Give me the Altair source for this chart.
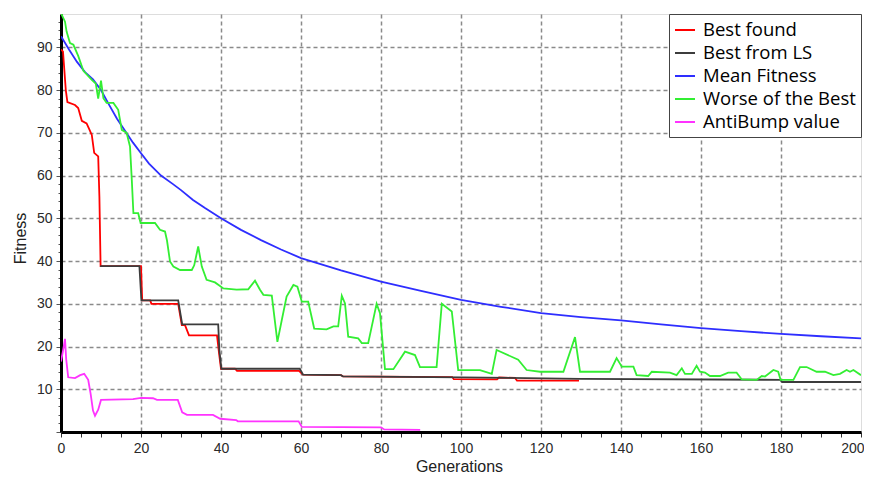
import altair as alt
import pandas as pd

# ---- data ----
series_names = ["Best found", "Best from LS", "Mean Fitness", "Worse of the Best", "AntiBump value"]
series_colors = ["#ff0000", "#3c3c3c", "#2e2eff", "#33ee33", "#ff33ff"]

best_found_gen = [0, 0.5, 1.2, 1.6, 3.5, 4.3, 5.2, 6.4, 7.0, 7.7, 8.3, 9.3, 9.6, 9.9,
                  20.0, 20.3, 22.3, 22.6, 29.3, 30.2, 31.0, 32.0, 39.0, 39.5, 40.0,
                  43.5, 44.0, 59.5, 60.5, 70.0, 70.5, 97.8, 98.2, 109.0, 109.5, 113.5, 114.0, 129.5]
best_found_val = [89.5, 89.0, 80.0, 77.2, 76.5, 75.8, 72.8, 72.2, 71.0, 69.5, 65.3, 64.5, 55.0, 38.8,
                  38.8, 30.8, 30.8, 30.0, 30.0, 25.0, 25.0, 22.6, 22.6, 18.5, 14.8,
                  14.8, 14.3, 14.3, 13.4, 13.3, 13.0, 12.85, 12.35, 12.3, 12.75, 12.65, 12.05, 12.0]

best_ls_gen = [9.8, 19.6, 20.1, 29.3, 30.3, 39.3, 39.6, 40.1, 59.7, 60.5, 70.0, 70.5,
               100.0, 130.0, 179.8, 180.3, 200.0]
best_ls_val = [38.8, 38.8, 30.8, 30.8, 25.2, 25.2, 19.0, 14.8, 14.8, 13.4, 13.3, 13.0,
               12.8, 12.45, 12.2, 11.7, 11.7]

mean_gen = [0, 2, 4, 6, 8, 10, 12, 14, 16, 18, 20, 22, 25, 28, 30, 33, 36, 40, 45, 50, 55,
            60, 70, 80, 90, 100, 110, 120, 130, 140, 150, 160, 170, 180, 190, 200]
mean_val = [92.6, 89.5, 86.6, 84.2, 82.5, 80.0, 76.6, 73.3, 70.5, 67.7, 65.2, 62.8, 60.0, 58.0,
            56.6, 54.3, 52.4, 50.0, 47.3, 44.9, 42.7, 40.7, 37.8, 35.2, 33.0, 30.9, 29.3, 27.8,
            26.9, 26.1, 25.2, 24.3, 23.6, 22.95, 22.4, 21.9]

worse_gen = [0, 1.0, 1.4, 2.25, 3.1, 4.3, 5.6, 7.7, 8.7, 9.3, 10.0, 10.6, 11.4, 13.1, 14.3, 15.2,
             16.4, 17.25, 17.7, 18.1, 19.3, 19.9, 23.5, 24.75, 26.0, 26.5, 27.25, 28.1, 29.75,
             32.7, 33.3, 34.3, 35.2, 36.4, 38.5, 40.6, 43.9, 46.8, 48.5, 49.75, 50.6, 52.7, 54.1,
             55.2, 56.4, 58.1, 59.1, 60.2, 61.8, 63.3, 66.4, 68.1, 69.3, 70.2, 71.0, 71.8, 74.3,
             75.2, 76.8, 78.9, 79.75, 81.0, 83.1, 86.0, 88.5, 89.75, 93.9, 95.2, 97.7, 99.3,
             104.75, 107.7, 108.9, 114.3, 116.4, 119.75, 125.6, 128.5, 129.75, 137.25, 138.9,
             140.2, 143.1, 143.9, 146.8, 147.7, 152.25, 153.9, 155.2, 156.0, 157.7, 158.9,
             159.75, 161.0, 162.25, 164.75, 166.8, 168.9, 170.2, 173.9, 175.2, 176.0, 178.1,
             179.3, 179.9, 183.1, 184.75, 186.4, 188.9, 191.0, 193.1, 194.75, 196.4, 197.25,
             198.1, 200.0]
worse_val = [98.0, 96.0, 93.7, 91.0, 90.6, 88.0, 84.5, 82.4, 81.5, 78.0, 82.2, 78.1, 77.0, 77.0,
             75.4, 70.7, 70.0, 66.8, 59.0, 51.2, 51.2, 48.9, 48.9, 47.3, 46.9, 44.8, 39.9, 38.7,
             37.9, 37.9, 39.0, 43.4, 38.7, 35.6, 35.0, 33.6, 33.3, 33.4, 35.4, 33.3, 32.1, 31.9,
             21.1, 26.2, 31.7, 34.4, 34.0, 30.5, 30.5, 24.2, 24.0, 24.7, 24.7, 31.9, 30.1, 22.3,
             21.9, 20.8, 20.8, 30.0, 27.8, 14.7, 14.7, 18.8, 18.0, 15.2, 15.2, 30.0, 28.2, 14.5,
             14.5, 13.6, 19.2, 16.9, 14.5, 14.1, 14.1, 22.2, 14.1, 14.1, 17.3,
             15.3, 15.3, 13.3, 13.1, 14.1, 13.9, 13.3, 14.9, 13.6, 13.6, 15.5,
             14.1, 13.9, 13.1, 13.1, 13.9, 13.9, 12.3, 12.2, 13.1, 13.0, 14.5,
             14.1, 12.2, 12.2, 15.2, 15.2, 14.1, 14.1, 13.3, 13.6, 14.5, 14.1,
             14.5, 13.3]

antibump_gen = [0, 0.5, 1.0, 1.3, 1.8, 3.5, 4.8, 5.8, 6.8, 7.4, 8.0, 8.5, 9.3, 10.0, 18.0, 20.0,
                23.0, 24.0, 29.2, 30.3, 31.5, 38.0, 39.8, 43.8, 44.2, 59.4, 60.2, 80.0, 80.8, 89.8]
antibump_val = [16.5, 19.0, 21.8, 17.0, 12.8, 12.6, 13.3, 13.6, 12.2, 9.0, 5.0, 3.8, 5.2, 7.5,
                7.7, 8.0, 7.9, 7.5, 7.5, 4.6, 4.0, 4.0, 3.1, 2.8, 2.5, 2.5, 1.2, 1.1, 0.6, 0.5]

x_tick_values = list(range(0, 201, 5))
y_tick_values = list(range(0, 98, 2))

# ---- table ----
gens = [best_found_gen, best_ls_gen, mean_gen, worse_gen, antibump_gen]
vals = [best_found_val, best_ls_val, mean_val, worse_val, antibump_val]
rows = []
for name, g_list, v_list in zip(series_names, gens, vals):
    for g, v in zip(g_list, v_list):
        rows.append({"series": name, "gen": g, "fitness": v})
df = pd.DataFrame(rows)

LEGEND_FONT = "Open Sans"
AXIS_FONT = "Liberation Sans"

x_enc = alt.X(
    "gen:Q",
    scale=alt.Scale(domain=[0, 200], nice=False, zero=False),
    axis=alt.Axis(
        title="Generations",
        values=x_tick_values,
        labelExpr="datum.value % 20 === 0 ? datum.label : ''",
        labelOverlap=False,
        labelFlush=False,
        labelFont=AXIS_FONT,
        labelFontSize=14,
        labelColor="#2a2a2a",
        labelPadding=4,
        labelAlign={"condition": {"test": "datum.value === 200", "value": "right"}, "value": "center"},
        labelOffset={"condition": {"test": "datum.value === 200", "value": 3}, "value": 0},
        tickSize=5,
        tickColor="#333333",
        tickWidth=1,
        domainColor="black",
        domainWidth=3,
        grid=True,
        gridColor="#8a8a8a",
        gridDash=[4, 3],
        gridWidth=1.5,
        gridOpacity={"condition": {"test": "datum.value % 20 === 0 && datum.value > 0 && datum.value < 200", "value": 1}, "value": 0},
        titleFont=AXIS_FONT,
        titleFontSize=16,
        titleFontWeight="normal",
        titleColor="#222222",
        titleX=398,
        titleY=39,
        titleAlign="center",
        titleBaseline="alphabetic",
    ),
)

y_enc = alt.Y(
    "fitness:Q",
    scale=alt.Scale(domain=[0, 97.8], nice=False, zero=False),
    axis=alt.Axis(
        title="Fitness",
        values=y_tick_values,
        labelExpr="datum.value % 10 === 0 && datum.value > 0 ? datum.label : ''",
        labelOverlap=False,
        labelFlush=False,
        labelFont=AXIS_FONT,
        labelFontSize=14,
        labelColor="#2a2a2a",
        labelPadding=4,
        tickSize={"condition": {"test": "datum.value % 10 === 0", "value": 5}, "value": 3},
        tickColor="#555555",
        tickWidth=1,
        domainColor="black",
        domainWidth=3,
        grid=True,
        gridColor="#8a8a8a",
        gridDash=[4, 3],
        gridWidth=1.5,
        gridOpacity={"condition": {"test": "datum.value % 10 === 0 && datum.value > 0", "value": 1}, "value": 0},
        titleFont=AXIS_FONT,
        titleFontSize=16,
        titleFontWeight="normal",
        titleColor="#222222",
        titleX=-41,
        titleY=224,
        titleAngle=-90,
        titleAlign="center",
        titleBaseline="middle",
    ),
)

color_enc = alt.Color(
    "series:N",
    scale=alt.Scale(domain=series_names, range=series_colors),
    legend=alt.Legend(
        title=None,
        orient="top-right",
        offset=0,
        fillColor="white",
        strokeColor="#444444",
        padding=5,
        labelFont=LEGEND_FONT,
        labelFontSize=18.5,
        labelColor="black",
        labelOffset=7,
        symbolType="stroke",
        symbolSize=400,
        symbolStrokeWidth=2,
        rowPadding=2,
        labelLimit=300,
    ),
)

base = alt.Chart(df).mark_line(strokeWidth=1.8, clip=True).encode(
    x=x_enc, y=y_enc, color=color_enc
)

layers = [base.transform_filter(alt.datum.series == s) for s in series_names]

chart = alt.layer(*layers).properties(
    width=800,
    height=418,
    autosize=alt.AutoSizeParams(type="none"),
    padding={"left": 53, "top": 6, "right": 3, "bottom": 43},
).configure_view(
    stroke="#666666", strokeWidth=2
).configure(background="white")

chart.save("out.html", embed_options={"renderer": "svg", "actions": False})
